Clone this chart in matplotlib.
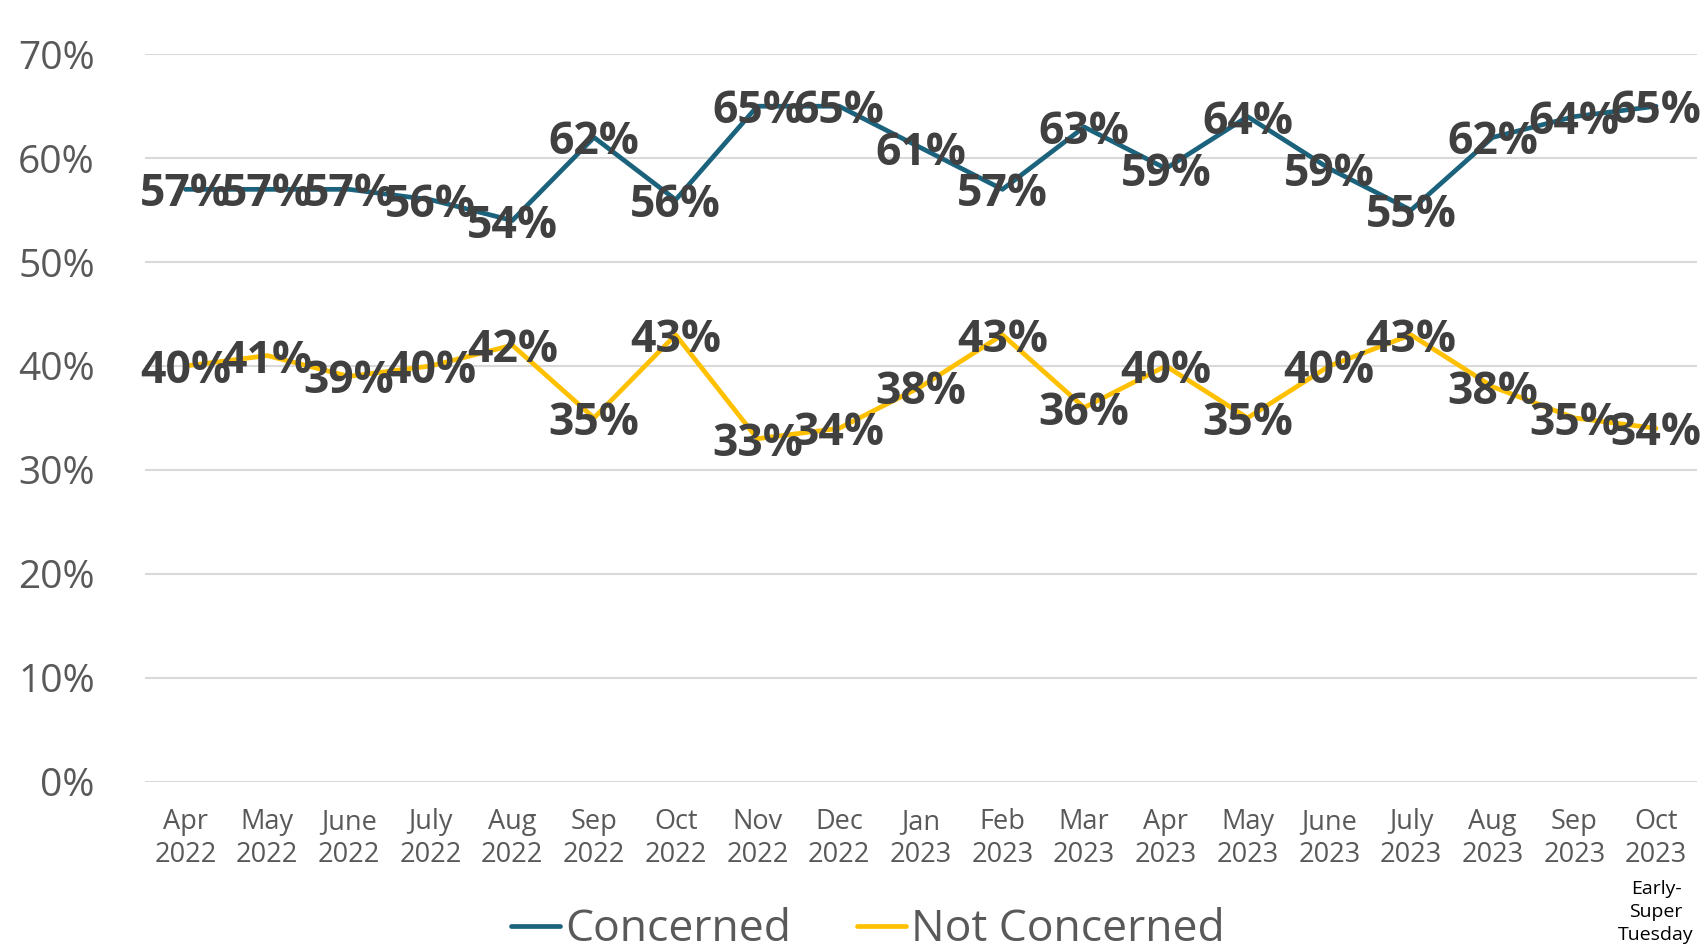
# Line chart: share concerned vs not concerned, Apr 2022 - Oct 2023
import matplotlib.pyplot as plt
import matplotlib.transforms as mtransforms
import numpy as np

months = ['Apr\n2022', 'May\n2022', 'June\n2022', 'July\n2022', 'Aug\n2022', 'Sep\n2022',
          'Oct\n2022', 'Nov\n2022', 'Dec\n2022', 'Jan\n2023', 'Feb\n2023', 'Mar\n2023',
          'Apr\n2023', 'May\n2023', 'June\n2023', 'July\n2023', 'Aug\n2023', 'Sep\n2023',
          'Oct\n2023']
concerned = [57, 57, 57, 56, 54, 62, 56, 65, 65, 61, 57, 63, 59, 64, 59, 55, 62, 64, 65]
not_concerned = [40, 41, 39, 40, 42, 35, 43, 33, 34, 38, 43, 36, 40, 35, 40, 43, 38, 35, 34]
note = 'Early-\nSuper\nTuesday'

plt.rcParams['font.family'] = ['Open Sans', 'DejaVu Sans']

BLUE = '#1B637D'
GOLD = '#FFC000'
GRAY = '#595959'
LABEL = '#404040'


def line_chart():
    fig = plt.figure(figsize=(17.02, 9.52), dpi=100)
    ax = fig.add_axes([0.085, 0.179, 0.912, 0.764])
    x = np.arange(len(months))

    ax.plot(x, concerned, color=BLUE, linewidth=3.4, label='Concerned', solid_capstyle='round')
    ax.plot(x, not_concerned, color=GOLD, linewidth=3.4, label='Not Concerned', solid_capstyle='round')

    # data labels sit centred on the points, like the original
    for xi, v in zip(x, concerned):
        ax.text(xi, v, f'{v}%', ha='center', va='center_baseline', fontsize=32,
                fontweight='bold', color=LABEL)
    for xi, v in zip(x, not_concerned):
        ax.text(xi, v, f'{v}%', ha='center', va='center_baseline', fontsize=32,
                fontweight='bold', color=LABEL)

    ax.set_xlim(-0.5, len(months) - 0.5)
    ax.set_ylim(0, 70)
    ax.set_yticks(range(0, 71, 10))
    ax.set_yticklabels([f'{t}%' for t in range(0, 71, 10)], fontsize=28, color=GRAY)
    ax.set_xticks(x)
    ax.set_xticklabels(months, fontsize=19.5, color=GRAY, linespacing=1.25)
    ax.tick_params(axis='x', length=0, pad=19)
    ax.tick_params(axis='y', length=0, pad=36)
    ax.grid(axis='y', color='#D9D9D9', linewidth=1.5)
    ax.set_axisbelow(True)
    for s in ax.spines.values():
        s.set_visible(False)

    trans = mtransforms.blended_transform_factory(ax.transData, fig.transFigure)
    ax.text(len(months) - 1, 1 - 912 / 952, note, transform=trans, ha='center', va='center',
            fontsize=14, color='black', linespacing=1.35)

    fig.legend(loc='center', bbox_to_anchor=(868 / 1702, 1 - 930 / 952), ncol=2,
               frameon=False, fontsize=32, labelcolor=GRAY, handlelength=1.1,
               handletextpad=0.1, columnspacing=1.5)
    fig.savefig('out.png', dpi=100)


def main():
    line_chart()


if __name__ == '__main__':
    main()
